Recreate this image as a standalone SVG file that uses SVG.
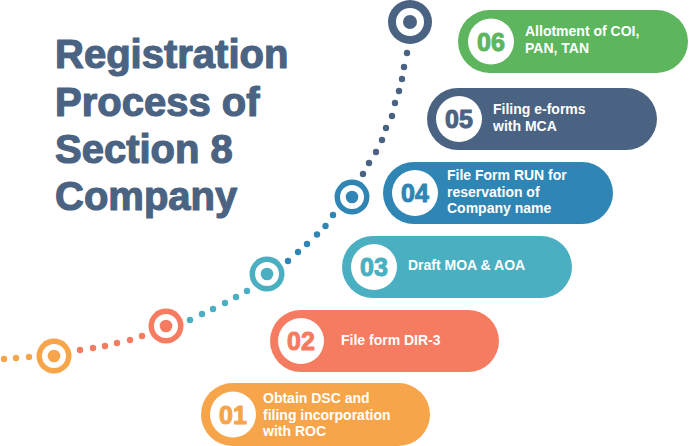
<svg xmlns="http://www.w3.org/2000/svg" width="690" height="446" viewBox="0 0 690 446">
<style>
.title{font-family:"Liberation Sans",Arial,sans-serif;font-weight:bold;font-size:40px;fill:#4b6382;stroke:#4b6382;stroke-width:1.2px;stroke-linejoin:round}
.lbl{font-family:"Liberation Sans",Arial,sans-serif;font-weight:bold;font-size:14px;fill:#ffffff}
.num{font-family:"Liberation Sans",Arial,sans-serif;font-weight:bold;font-size:25px;text-anchor:middle;stroke-width:1px;stroke-linejoin:round}
.c1{fill:#f7a54a;stroke:#f7a54a}.c2{fill:#f67c61;stroke:#f67c61}.c3{fill:#4aafc1;stroke:#4aafc1}
.c4{fill:#2f86b4;stroke:#2f86b4}.c5{fill:#4b6382;stroke:#4b6382}.c6{fill:#5db65d;stroke:#5db65d}
.pill{stroke:none}
.w{fill:#ffffff}
</style>
<rect width="690" height="446" fill="#ffffff"/>
<g id="title">
<text class="title" x="55" y="68">Registration</text>
<text class="title" x="55" y="116">Process of</text>
<text class="title" x="55" y="163">Section 8</text>
<text class="title" x="55" y="210">Company</text>
</g>
<g id="connectors" stroke="none">
<g fill="#f7a54a"><circle cx="4" cy="359" r="3.2"/><circle cx="16" cy="358" r="3.2"/><circle cx="29" cy="357" r="3.2"/></g>
<g fill="#f67c61"><circle cx="80" cy="350" r="3.2"/><circle cx="93" cy="348" r="3.2"/><circle cx="105" cy="346" r="3.2"/><circle cx="117" cy="343" r="3.2"/><circle cx="130" cy="340" r="3.2"/><circle cx="142" cy="336" r="3.2"/></g>
<g fill="#4aafc1"><circle cx="190" cy="320" r="3.2"/><circle cx="202" cy="314" r="3.2"/><circle cx="213" cy="309" r="3.2"/><circle cx="225" cy="303" r="3.2"/><circle cx="236" cy="297" r="3.2"/><circle cx="247" cy="291" r="3.2"/></g>
<g fill="#2f86b4"><circle cx="288" cy="261" r="3.2"/><circle cx="298" cy="252" r="3.2"/><circle cx="307" cy="244" r="3.2"/><circle cx="317" cy="234.5" r="3.2"/><circle cx="325.5" cy="226" r="3.2"/><circle cx="333" cy="215" r="3.2"/></g>
<g fill="#4b6382"><circle cx="363" cy="174" r="3.2"/><circle cx="369" cy="163" r="3.2"/><circle cx="376" cy="152" r="3.2"/><circle cx="382" cy="140" r="3.2"/><circle cx="386" cy="128" r="3.2"/><circle cx="392" cy="116" r="3.2"/><circle cx="395" cy="103" r="3.2"/><circle cx="399" cy="91" r="3.2"/><circle cx="402" cy="79" r="3.2"/><circle cx="404" cy="67" r="3.2"/><circle cx="407" cy="53" r="3.2"/></g>
</g>
<g id="target1"><circle cx="54" cy="356" r="17.5" fill="#f7a54a"/><circle cx="54" cy="356" r="12" class="w"/><circle cx="54" cy="356" r="6.3" fill="#f7a54a"/></g>
<g id="target2"><circle cx="166" cy="326" r="17.5" fill="#f67c61"/><circle cx="166" cy="326" r="12" class="w"/><circle cx="166" cy="326" r="6.3" fill="#f67c61"/></g>
<g id="target3"><circle cx="267" cy="274" r="17.5" fill="#4aafc1"/><circle cx="267" cy="274" r="12" class="w"/><circle cx="267" cy="274" r="6.3" fill="#4aafc1"/></g>
<g id="target4"><circle cx="352" cy="197" r="17.5" fill="#2f86b4"/><circle cx="352" cy="197" r="12" class="w"/><circle cx="352" cy="197" r="6.3" fill="#2f86b4"/></g>
<g id="target6"><circle cx="410" cy="22" r="22" fill="#4b6382"/><circle cx="410" cy="22" r="14" class="w"/><circle cx="410" cy="22" r="7" fill="#4b6382"/></g>

<g id="step06">
<rect class="pill c6" x="458" y="10" width="230" height="63" rx="31.5"/>
<circle cx="491" cy="41.5" r="23" class="w"/>
<text class="num c6" x="491" y="50.5">06</text>
<text class="lbl" x="525" y="36">Allotment of COI,</text>
<text class="lbl" x="525" y="53">PAN, TAN</text>
</g>
<g id="step05">
<rect class="pill c5" x="427" y="88" width="230" height="62" rx="31"/>
<circle cx="459" cy="119" r="23" class="w"/>
<text class="num c5" x="459" y="128">05</text>
<text class="lbl" x="493" y="114">Filing e-forms</text>
<text class="lbl" x="493" y="131">with MCA</text>
</g>
<g id="step04">
<rect class="pill c4" x="383" y="162" width="230" height="62" rx="31"/>
<circle cx="415" cy="193" r="23" class="w"/>
<text class="num c4" x="415" y="202">04</text>
<text class="lbl" x="447" y="180">File Form RUN for</text>
<text class="lbl" x="447" y="197">reservation of</text>
<text class="lbl" x="447" y="213">Company name</text>
</g>
<g id="step03">
<rect class="pill c3" x="342" y="236" width="230" height="62" rx="31"/>
<circle cx="374" cy="267" r="23" class="w"/>
<text class="num c3" x="374" y="276">03</text>
<text class="lbl" x="408" y="270">Draft MOA &amp; AOA</text>
</g>
<g id="step02">
<rect class="pill c2" x="270" y="310" width="229" height="62" rx="31"/>
<circle cx="301" cy="341" r="23" class="w"/>
<text class="num c2" x="301" y="350">02</text>
<text class="lbl" x="341" y="345">File form DIR-3</text>
</g>
<g id="step01">
<rect class="pill c1" x="201" y="383" width="229" height="63" rx="31.5"/>
<circle cx="233" cy="414.5" r="23" class="w"/>
<text class="num c1" x="233" y="423.5">01</text>
<text class="lbl" x="263" y="403">Obtain DSC and</text>
<text class="lbl" x="263" y="420">filing incorporation</text>
<text class="lbl" x="263" y="436">with ROC</text>
</g>
</svg>
